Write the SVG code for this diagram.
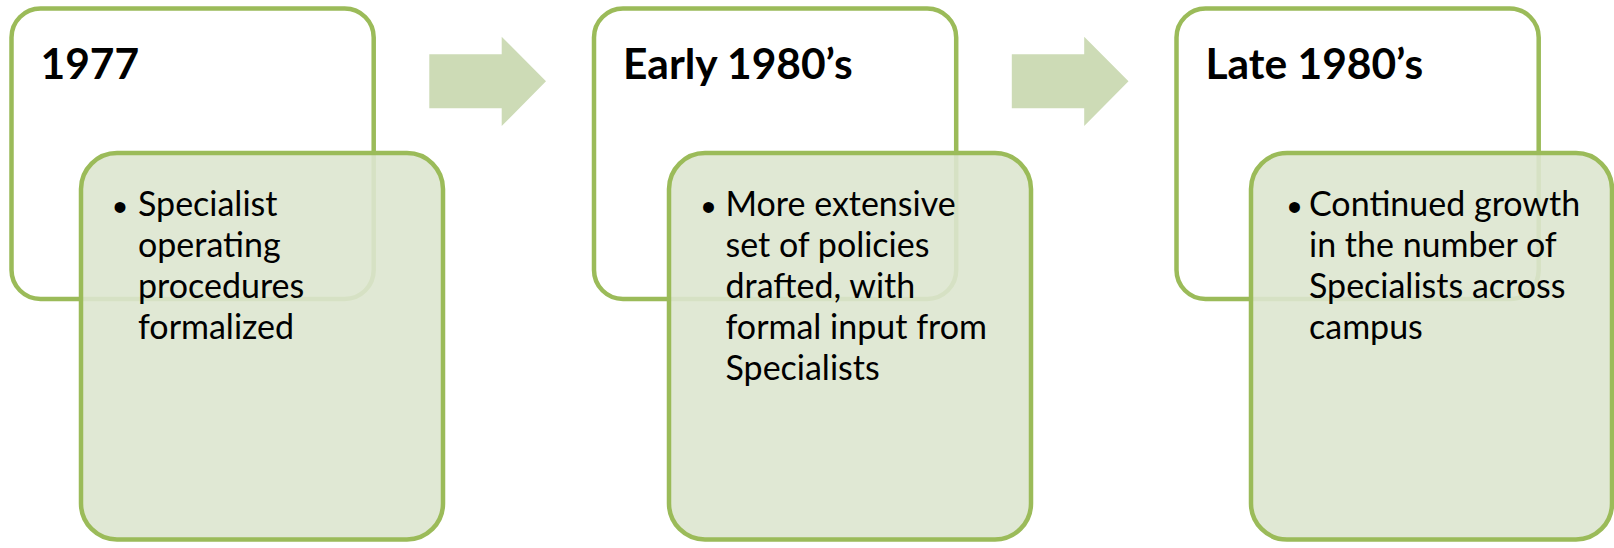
<svg xmlns="http://www.w3.org/2000/svg" width="1614" height="548" viewBox="0 0 1614 548">
<style>
.top{fill:#ffffff;stroke:#9BBB59;stroke-width:4.5}
.bot{fill:#DDE5CF;fill-opacity:0.9;stroke:#9BBB59;stroke-width:4.5}
.arr{fill:#CDDBB6}
.title{font-family:Lato,"Liberation Sans",sans-serif;font-weight:bold;font-size:42.5px;fill:#000}
.body{font-family:Lato,"Liberation Sans",sans-serif;font-size:34px;fill:#000}
.bul{font-family:"Liberation Sans",sans-serif;font-size:40px;fill:#000}
</style>
<rect width="1614" height="548" fill="#ffffff"/>
<g id="connectors">
<polygon class="arr" points="429.3,54.3 501.7,54.3 501.7,36.7 546,81.3 501.7,126 501.7,108.3 429.3,108.3"/>
<polygon class="arr" points="1011.8,54.3 1084.2,54.3 1084.2,36.7 1128.5,81.3 1084.2,126 1084.2,108.3 1011.8,108.3"/>
</g>
<g id="node-1977">
<rect class="top" x="11.5" y="8.5" width="362.2" height="290.5" rx="29"/>
<text class="title" x="40.5" y="79">1977</text>
</g>
<g id="node-early1980s">
<rect class="top" x="594" y="8.5" width="362.2" height="290.5" rx="29"/>
<text class="title" x="623" y="79">Early 1980’s</text>
</g>
<g id="node-late1980s">
<rect class="top" x="1176.5" y="8.5" width="362.2" height="290.5" rx="29"/>
<text class="title" x="1205.5" y="79">Late 1980’s</text>
</g>
<g id="node-1977-detail">
<rect class="bot" x="81" y="153" width="362" height="386.5" rx="36"/>
<text class="bul" x="113" y="221">•</text>
<text class="body" x="138" y="215.5">Specialist</text>
<text class="body" x="138" y="256.5">operating</text>
<text class="body" x="138" y="297.5">procedures</text>
<text class="body" x="138" y="338.5">formalized</text>
</g>
<g id="node-early1980s-detail">
<rect class="bot" x="669" y="153" width="362" height="386.5" rx="36"/>
<text class="bul" x="701.5" y="221">•</text>
<text class="body" x="725.5" y="215.5">More extensive</text>
<text class="body" x="725.5" y="256.5">set of policies</text>
<text class="body" x="725.5" y="297.5">drafted, with</text>
<text class="body" x="725.5" y="338.5">formal input from</text>
<text class="body" x="725.5" y="379.5">Specialists</text>
</g>
<g id="node-late1980s-detail">
<rect class="bot" x="1251" y="153" width="361" height="386.5" rx="36"/>
<text class="bul" x="1287.5" y="221">•</text>
<text class="body" x="1309" y="215.5">Continued growth</text>
<text class="body" x="1309" y="256.5">in the number of</text>
<text class="body" x="1309" y="297.5">Specialists across</text>
<text class="body" x="1309" y="338.5">campus</text>
</g>
</svg>
